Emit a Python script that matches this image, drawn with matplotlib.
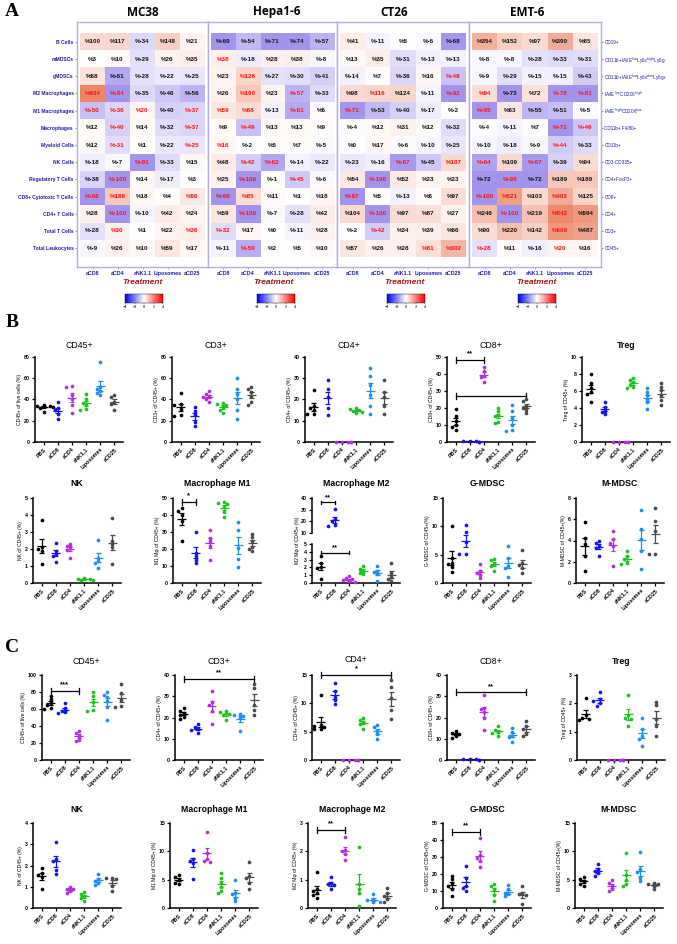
import numpy as np
import matplotlib.pyplot as plt
from matplotlib.colors import LinearSegmentedColormap, TwoSlopeNorm, Normalize
from matplotlib.cm import ScalarMappable

plt.rcParams['font.family'] = ['Liberation Sans', 'DejaVu Sans']

# ---------------- panel A data: % change vs PBS ----------------
cell_types = ['B Cells', 'mMDSCs', 'gMDSCs', 'M2 Macrophages', 'M1 Macrophages',
              'Macrophages', 'Myeloid Cells', 'NK Cells', 'Regulatory T Cells',
              'CD8+ Cytotoxic T Cells', 'CD4+ T Cells', 'Total T Cells', 'Total Leukocytes']
markers = ['CD19+', 'CD11b+IA/IE$^{low}$Ly6c$^{high}$Ly6g-', 'CD11b+IA/IE$^{low}$Ly6c$^{dim}$Ly6g+',
           'IA/IE$^{low}$CD206$^{high}$', 'IA/IE$^{high}$CD206$^{low}$', 'CD11b+ F4/80+',
           'CD11b+', 'CD3-CD335+', 'CD4+FoxP3+', 'CD8+', 'CD4+', 'CD3+', 'CD45+']
treatments = ['aCD8', 'aCD4', 'aNK1.1', 'Liposomes', 'aCD25']
models = ['MC38', 'Hepa1-6', 'CT26', 'EMT-6']

mc38 = [[100, 117, -34, 148, 21], [3, 10, -29, 26, 35], [68, -61, -28, -22, -25],
        [934, -84, -35, -46, -56], [-50, -36, 20, -40, -37], [12, -40, 14, -32, -37],
        [12, -31, 1, -22, -25], [-18, -7, -91, -33, 15], [-38, -100, 14, -17, 3],
        [-98, 186, 18, 4, 56], [28, -100, -10, 42, 24], [-28, 30, 1, 22, 36],
        [-9, 26, 10, 59, 17]]
hepa = [[-69, -54, -71, -74, -57], [38, -18, 28, 38, -8], [23, 126, -27, -30, -41],
        [26, 190, 23, -57, -33], [59, 88, -13, -61, 6], [9, -49, 13, 13, 9],
        [16, -2, 5, 7, -5], [48, -42, -62, -14, -22], [25, -100, -1, -45, -6],
        [-99, 85, 11, 1, 18], [59, -100, -7, -28, 42], [-32, 17, 0, -11, 28],
        [-11, -59, 2, 5, 10]]
ct26 = [[41, -11, 5, -6, -68], [13, 35, -31, -13, -13], [-14, 7, -36, 16, -48],
        [98, 116, 124, -11, -92], [-71, -53, -40, -17, -2], [-4, 12, 31, 12, -32],
        [0, 17, -6, -10, -25], [-23, -16, -67, -45, 107], [54, -100, 52, 23, 23],
        [-97, 5, -13, 6, 97], [104, -100, 97, 87, 27], [-2, -42, 34, 39, 66],
        [57, 26, 28, 81, 302]]
emt6 = [[354, 152, 97, 390, 65], [-8, -8, -28, -33, -31], [-9, -29, -15, -15, -43],
        [94, -73, 72, -78, -81], [-95, 63, -55, -51, -5], [-4, -11, 7, -71, -46],
        [-10, -18, -9, -44, -33], [-64, 109, -67, -39, 94], [-72, -99, -72, 189, 189],
        [-100, 521, 103, 403, 125], [246, -100, 219, 842, 594], [90, 220, 142, 609, 487],
        [-28, 11, -16, 20, 16]]

# 1 = significant (printed in red)
mc38_sig = [[0,0,0,0,0],[0,0,0,0,0],[0,0,0,0,0],[1,1,0,0,0],[1,1,1,0,1],[0,1,0,0,1],
            [0,1,0,0,1],[0,0,1,0,0],[0,1,0,0,0],[1,1,0,0,1],[0,1,0,0,0],[0,1,0,0,1],[0,0,0,0,0]]
hepa_sig = [[0,0,0,0,0],[1,0,0,0,0],[0,1,0,0,0],[0,1,0,1,0],[1,1,0,1,0],[0,1,0,0,0],
            [1,0,0,0,0],[0,1,1,0,0],[0,1,0,1,0],[1,1,0,0,0],[0,1,0,0,0],[1,0,0,0,0],[0,1,0,0,0]]
ct26_sig = [[0,0,0,0,0],[0,0,0,0,0],[0,0,0,0,1],[0,1,0,0,1],[1,0,0,0,0],[0,0,0,0,0],
            [0,0,0,0,0],[0,0,1,0,1],[0,1,0,0,0],[1,0,0,0,0],[0,1,0,0,0],[0,1,0,0,0],[0,0,0,1,1]]
emt6_sig = [[0,0,0,0,0],[0,0,0,0,0],[0,0,0,0,0],[1,0,0,1,1],[1,0,0,0,0],[0,0,0,1,1],
            [0,0,0,1,0],[1,0,1,0,0],[0,1,0,0,0],[1,1,0,1,0],[0,1,0,1,0],[0,0,0,1,0],[1,0,0,1,0]]

# ---------------- panels B / C data: % of parent per mouse ----------------
groups = ['PBS', 'aCD8', 'aCD4', 'aNK1.1', 'Liposomes', 'aCD25']
group_colors = ['#000000', '#1212ee', '#b02ee0', '#1ec21e', '#1e8cf0', '#4a4a4a']

b_cd45 = [[28, 32, 33, 34, 34, 35], [22, 26, 30, 32, 38], [27, 35, 40, 44, 52, 53],
          [30, 31, 35, 37, 40, 45], [44, 46, 48, 50, 52, 75], [30, 36, 38, 42, 44]]
b_cd3 = [[24, 25, 31, 35, 36, 46], [15, 19, 25, 29, 33], [38, 40, 42, 43, 45, 48],
         [27, 30, 33, 35, 36, 37], [22, 30, 40, 45, 50, 60], [35, 38, 43, 47, 50, 52]]
b_cd4 = [[13, 13, 15, 16, 17, 24.5], [12.5, 16, 21, 25, 29], [0, 0, 0, 0, 0],
         [13.5, 14, 14.5, 15, 15.5, 16], [13, 17, 22, 27, 31, 35], [13, 17, 21, 23.5, 29]]
b_cd8 = [[6.8, 8.8, 10, 12.4, 15, 19.4], [0.1, 0.2, 0.3, 0.4, 0.5], [35, 38, 39, 41.5, 44],
         [11, 12, 15, 16, 18, 20], [6.5, 7, 10, 14, 18, 22], [17, 19, 20, 21, 24, 25]]
b_treg = [[4.7, 5.6, 5.9, 6.3, 6.9, 8], [3.3, 3.5, 3.7, 4.1, 4.7], [0, 0, 0, 0, 0],
          [6.4, 6.5, 6.7, 7, 7.3, 7.5], [3.9, 4.7, 5.1, 5.5, 5.9, 6.3], [4.3, 4.9, 5.5, 6.1, 6.5, 6.9]]
b_nk = [[1.1, 1.9, 2.0, 2.1, 3.7], [1.25, 1.6, 1.7, 1.9, 2.35], [1.5, 1.95, 2.1, 2.2, 2.3],
        [0.15, 0.2, 0.22, 0.25, 0.3], [0.9, 1.2, 1.3, 1.5, 2.55], [1.1, 2.1, 2.3, 2.5, 3.85]]
b_m1 = [[24.7, 36.6, 40, 42.5, 43.9], [11.5, 13.8, 15.8, 17.8, 30], [13.8, 21.7, 24.7, 26.7, 31.2],
        [39.1, 41.5, 44.5, 46.4, 47, 47.4], [9.5, 14.2, 20.7, 31, 36], [19, 20, 21, 25, 27, 29]]
b_m2 = [[0.55, 1.9, 2.1, 2.6, 3.4], [16, 17, 20, 22, 30.7], [0.1, 0.2, 0.35, 0.45, 0.6, 0.85],
        [1.1, 1.3, 1.6, 1.8, 2.2], [0.3, 1.1, 1.4, 1.6, 2.2], [0.2, 0.45, 0.8, 1.3, 2.6]]
b_gmdsc = [[2.0, 2.8, 3.3, 3.6, 4.5, 10.1], [5.2, 5.2, 7.2, 9, 10.3], [0.9, 1.5, 1.8, 2.1, 3.3],
           [2.1, 3, 3.3, 4, 4.3], [1.1, 2.7, 3, 4.4, 6.6], [1.8, 2.7, 3.1, 3.6, 5.8]]
b_mmdsc = [[1.1, 2.5, 3.7, 4.2, 5.7], [2.5, 3.3, 3.5, 3.8, 4], [1.6, 3.5, 3.8, 4.1, 4.9],
           [1.8, 1.9, 2.3, 2.5, 3], [1.3, 3, 4.1, 5.1, 6.9], [2.7, 2.7, 4.9, 5.8, 7.1]]

c_cd45 = [[60, 61, 65, 67, 71.6, 75.5], [55, 56, 58, 61, 67], [22, 24, 28, 32, 34],
          [58, 59, 68, 75, 80], [47, 62, 70, 74, 77, 80], [62, 63, 71, 79, 89]]
c_cd3 = [[19.5, 20.2, 21.3, 22.1, 22.9, 24.4], [12.8, 14, 14.6, 15.6, 17.1], [17.1, 22.9, 26, 27.5, 32.7],
         [19, 21.3, 21.8, 22.4, 22.9], [13.5, 19.8, 20.5, 21, 21.5], [21.3, 23.7, 26, 33.8, 36]]
c_cd4 = [[5.4, 5.5, 5.8, 6.0, 6.2, 11.4], [9.8, 10.6, 11.2, 12.1, 13.6], [0, 0, 0, 0, 0],
         [5.5, 6.4, 6.7, 7.0, 7.4], [3.7, 4.6, 5.2, 5.8, 6.2], [7.3, 8.8, 11, 12.8, 14.2]]
c_cd8 = [[10.3, 11.5, 12.3, 12.8, 13.8], [0.1, 0.2, 0.3, 0.3, 0.4], [14.3, 20, 22.6, 23.8, 24.6, 30.8],
         [11.2, 12.8, 13.4, 14.3, 15.8], [8.5, 10.8, 11.5, 13.1, 14.9], [11.5, 12.3, 14.6, 15.8, 18.5]]
c_treg = [[1.4, 1.45, 1.5, 1.6, 2.2], [1.9, 2.0, 2.1, 2.15, 2.4], [0, 0, 0, 0, 0],
          [1.2, 1.45, 1.5, 1.6, 2.3], [0.5, 0.75, 0.85, 1.1, 1.5], [0.85, 1.2, 1.45, 1.93, 2.05]]
c_nk = [[0.9, 1.45, 1.55, 1.65, 1.9], [1.6, 1.8, 2.2, 2.3, 3.1], [0.72, 0.8, 0.88, 0.9, 1.0],
        [0.33, 0.48, 0.56, 0.64, 0.75], [1.1, 1.2, 1.27, 1.38, 1.6], [0.8, 1.03, 1.35, 1.4, 1.42]]
c_m1 = [[4.2, 4.5, 5.0, 5.5, 5.9], [5.2, 8.0, 8.3, 8.6, 10.3], [8.1, 8.3, 8.6, 9.7, 13.4],
        [2.7, 3.0, 3.7, 4.5, 5.3, 6.1], [1.2, 1.8, 2.4, 2.7, 4.9], [3.4, 4.5, 5.3, 5.7, 8.1]]
c_m2 = [[0.36, 0.45, 0.52, 0.6, 0.66, 1.27], [0.68, 0.8, 0.83, 0.89, 1.1], [1.69, 1.89, 2.0, 2.06, 2.5],
        [0.07, 0.54, 0.66, 0.83, 2.16], [0.2, 0.21, 0.28, 0.33, 0.48], [0.2, 0.31, 0.43, 0.54, 0.72]]
c_gmdsc = [[7, 10.9, 12.9, 14.8, 16.8, 18.75], [10, 11.9, 12.9, 17.8, 24.6], [24.2, 27.5, 29.5, 31.4, 41.2],
           [4.1, 7.4, 10.9, 12.9, 13.9], [7, 8, 9, 10.9, 13.3], [2.1, 7.4, 8, 9, 12.9]]
c_mmdsc = [[3.9, 4.3, 4.7, 5.2, 5.5], [5.6, 6.1, 6.5, 6.9, 7.85], [3.0, 3.3, 3.9, 4.5, 4.9],
           [3.9, 4.2, 5.0, 5.9, 9.7], [4.7, 5.3, 6.3, 6.8, 9.8], [3.3, 3.9, 4.2, 4.3, 4.5]]

W, H = 677, 944
fig = plt.figure(figsize=(W / 100, H / 100), dpi=100)


def box(l, t, w, h):
    return [l / W, 1 - (t + h) / H, w / W, h / H]


# ---------------- panel A ----------------
cell_cmap = LinearSegmentedColormap.from_list('cells', ['#a293ec', '#ffffff', '#ec8466'])
cell_norm = TwoSlopeNorm(vmin=-1.7, vcenter=0, vmax=3.4)
blue = '#1c1ca6'

blocks = [(mc38, mc38_sig), (hepa, hepa_sig), (ct26, ct26_sig), (emt6, emt6_sig)]
frames = [(77, 131), (208, 129), (337, 132), (469, 132)]
title_x = [143, 277, 394, 527]
treat_x = [143, 274, 405, 537]
cbar_x = [125, 257, 387, 518]

for k, ((vals, sig), (fl, fw)) in enumerate(zip(blocks, frames)):
    ax = fig.add_axes(box(fl, 22, fw, 245))
    arr = np.array(vals, float)
    score = np.log2(np.clip(1 + arr / 100, 0.2, None))
    ax.imshow(score, cmap=cell_cmap, norm=cell_norm, aspect='auto',
              extent=(-0.5, 4.5, 12.5, -0.5), interpolation='nearest')
    for r in range(arr.shape[0]):
        for c in range(arr.shape[1]):
            ax.text(c, r, '%' + str(int(arr[r, c])), ha='center', va='center',
                    fontsize=4.5, fontweight='bold',
                    color='#ff1010' if sig[r][c] else '#111111')
    ax.set_xlim(-0.62, 4.62)
    ax.set_ylim(13.1, -1.16)
    for s in ax.spines.values():
        s.set_color('#b4acdc')
        s.set_linewidth(1.0)
    ax.set_xticks(range(5))
    ax.set_xticklabels(treatments, fontsize=3.8, fontweight='bold', color=blue)
    ax.tick_params(axis='x', length=1.5, pad=1.5, color='#b4acdc')
    if k == 0:
        ax.set_yticks(range(13))
        ax.set_yticklabels(cell_types, fontsize=3.6, fontweight='bold', color=blue)
        ax.tick_params(axis='y', length=1.5, pad=1.0, color='#9090c0')
    elif k == 3:
        ax.yaxis.tick_right()
        ax.set_yticks(range(13))
        ax.set_yticklabels(markers, fontsize=3.3, color=blue)
        ax.tick_params(axis='y', length=1.5, pad=1.0, color='#9090c0')
    else:
        ax.set_yticks([])
    fig.text(title_x[k] / W, 1 - 12 / H, models[k], ha='center', va='center',
             fontsize=8.5, fontweight='bold', family=['Open Sans', 'DejaVu Sans'])
    fig.text(treat_x[k] / W, 1 - 282 / H, 'Treatment', ha='center', va='center',
             fontsize=6, fontweight='bold', style='italic', color='#a01818')
    cax = fig.add_axes(box(cbar_x[k], 294, 38, 9))
    cb = fig.colorbar(ScalarMappable(norm=Normalize(-4, 4), cmap='bwr'), cax=cax,
                      orientation='horizontal', ticks=[-4, -2, 0, 2, 4])
    cb.outline.set_linewidth(0.3)
    cax.tick_params(labelsize=2.8, length=1, width=0.3, pad=0.8)

for letter, (lx, ly) in zip('ABC', [(12, 12), (12, 323), (12, 648)]):
    fig.text(lx / W, 1 - ly / H, letter, ha='center', va='center', fontsize=14,
             fontweight='bold', family=['Liberation Serif', 'DejaVu Serif'])


# ---------------- panels B / C ----------------
def swarm(vals, px_y, px_x=13.5, d=3.3):
    offs = np.zeros(len(vals))
    placed = []
    for i in np.argsort(vals)[::-1]:
        for c in (0, -0.22, 0.22, -0.44, 0.44, -0.66, 0.66):
            if all(np.hypot((c - o) * px_x, (vals[i] - v) * px_y) >= d for o, v in placed):
                break
        offs[i] = c
        placed.append((c, vals[i]))
    return offs


def style_axis(ax, ylim, yticks, bottom=True):
    ax.set_xlim(-0.6, 5.6)
    ax.set_ylim(*ylim)
    ax.set_yticks(yticks)
    ax.spines[['top', 'right']].set_visible(False)
    ax.spines['left'].set_linewidth(1.1)
    ax.spines['bottom'].set_linewidth(1.1)
    ax.tick_params(axis='y', labelsize=3.8, length=2.5, width=0.9, pad=1)
    for t in ax.get_yticklabels():
        t.set_fontweight('bold')
    if bottom:
        ax.set_xticks(range(6))
        ax.set_xticklabels(groups, rotation=45, ha='right', rotation_mode='anchor',
                           fontsize=3.9, fontweight='bold')
        ax.tick_params(axis='x', length=2.5, width=0.9, pad=1)
    else:
        ax.spines['bottom'].set_visible(False)
        ax.set_xticks([])


def draw_groups(ax, data, ylim, h_px):
    px_y = h_px / (ylim[1] - ylim[0])
    lo, hi = ylim
    for i, (vals, col) in enumerate(zip(data, group_colors)):
        v = np.array(vals, float)
        m = v.mean()
        se = v.std(ddof=1) / np.sqrt(len(v))
        keep = (v >= lo - 0.02 * (hi - lo)) & (v <= hi)
        offs = swarm(v, px_y)
        ax.scatter(i + offs[keep], v[keep], s=7, color=col, linewidths=0, zorder=3, clip_on=False)
        if lo <= m <= hi:
            kw = dict(color=col, lw=0.9, solid_capstyle='butt', zorder=2, clip_on=False)
            ax.plot([i - 0.32, i + 0.32], [m, m], **kw)
            ax.plot([i, i], [max(m - se, lo), min(m + se, hi)], **kw)
            ax.plot([i - 0.16, i + 0.16], [m + se] * 2, **kw)
            if m - se >= lo:
                ax.plot([i - 0.16, i + 0.16], [m - se] * 2, **kw)


def bracket(ax, x0, x1, y, stars, ylim):
    d = (ylim[1] - ylim[0]) * 0.035
    kw = dict(color='black', lw=0.9, clip_on=False)
    ax.plot([x0, x1], [y, y], **kw)
    ax.plot([x0, x0], [y - d, y + d], **kw)
    ax.plot([x1, x1], [y - d, y + d], **kw)
    if stars:
        ax.text((x0 + x1) / 2, y + d * 0.9, stars, ha='center', va='bottom', fontsize=5.5,
                fontweight='bold', clip_on=False)


def panel_title(left, title_y, text, bold):
    fig.text((left + 44) / W, 1 - title_y / H, text, ha='center', va='center',
             fontsize=6.3, fontweight='bold' if bold else 'normal')


def dot_panel(left, top, title_y, data, title, ylabel, ylim, yticks, bold=True, brackets=()):
    w, h = 88, 85
    ax = fig.add_axes(box(left, top, w, h))
    style_axis(ax, ylim, yticks)
    draw_groups(ax, data, ylim, h)
    ax.set_ylabel(ylabel, fontsize=3.6, labelpad=1.5)
    panel_title(left, title_y, title, bold)
    for b in brackets:
        bracket(ax, *b, ylim=ylim)
    return ax


# panel B, row 1
dot_panel(35, 357, 345, b_cd45, 'CD45+', 'CD45+ of live cells (%)', (0, 80), range(0, 81, 20), bold=False)
dot_panel(172, 357, 345, b_cd3, 'CD3+', 'CD3+ of CD45+ (%)', (0, 80), range(0, 81, 20), bold=False)
dot_panel(305, 357, 345, b_cd4, 'CD4+', 'CD4+ of CD45+ (%)', (0, 40), range(0, 41, 10), bold=False)
dot_panel(447, 357, 345, b_cd8, 'CD8+', 'CD8+ of CD45+ (%)', (0, 50), range(0, 51, 10), bold=False,
          brackets=[(0, 2, 48.4, '**'), (0, 5, 26.8, '')])
dot_panel(582, 357, 345, b_treg, 'Treg', 'Treg of CD45+ (%)', (0, 10), range(0, 11, 2))

# panel B, row 2
dot_panel(33, 498, 484, b_nk, 'NK', 'NK of CD45+ (%)', (0, 5), range(0, 6))
dot_panel(173, 498, 484, b_m1, 'Macrophage M1', 'M1 M\u03c6 of CD45+ (%)', (0, 50), range(0, 51, 10),
          brackets=[(0, 1, 47.8, '*')])
# broken axis for M2
top_lim, bot_lim = (10, 40), (0, 5)
ax_t = fig.add_axes(box(312, 498, 88, 35))
style_axis(ax_t, top_lim, range(10, 41, 10), bottom=False)
draw_groups(ax_t, b_m2, top_lim, 35)
panel_title(312, 484, 'Macrophage M2', True)
bracket(ax_t, 0, 1, 36.2, '**', top_lim)
ax_b = fig.add_axes(box(312, 544, 88, 39))
style_axis(ax_b, bot_lim, range(0, 6))
draw_groups(ax_b, b_m2, bot_lim, 39)
bracket(ax_b, 0, 2, 3.9, '**', bot_lim)
fig.text(298 / W, 1 - 540 / H, 'M2 M\u03c6 of CD45+ (%)', rotation=90, ha='center', va='center',
         fontsize=3.6)
dot_panel(443, 498, 484, b_gmdsc, 'G-MDSC', 'G-MDSC of CD45+(%)', (0, 15), range(0, 16, 5))
dot_panel(576, 498, 484, b_mmdsc, 'M-MDSC', 'M-MDSC of CD45+(%)', (0, 8), range(0, 9, 2))

# panel C, row 1
dot_panel(42, 675, 661, c_cd45, 'CD45+', 'CD45+ of live cells (%)', (0, 100), range(0, 101, 20), bold=False,
          brackets=[(0, 2, 81.7, '***')])
dot_panel(175, 675, 661, c_cd3, 'CD3+', 'CD4+ of CD45+ (%)', (0, 40), range(0, 41, 10), bold=False,
          brackets=[(0, 5, 38, '**')])
dot_panel(312, 675, 660, c_cd4, 'CD4+', 'CD4+ of CD45+ (%)', (0, 15), range(0, 16, 5), bold=False,
          brackets=[(0, 5, 15, '*')])
dot_panel(447, 675, 661, c_cd8, 'CD8+', 'CD8+ of CD45+ (%)', (0, 40), range(0, 41, 10), bold=False,
          brackets=[(0, 5, 31.8, '**')])
dot_panel(577, 675, 661, c_treg, 'Treg', 'Treg of CD45+ (%)', (0, 3), range(0, 4))

# panel C, row 2
dot_panel(33, 823, 809, c_nk, 'NK', 'NK of CD45+ (%)', (0, 4), range(0, 5))
dot_panel(170, 823, 809, c_m1, 'Macrophage M1', 'M1 M\u03c6 of CD45+ (%)', (0, 15), range(0, 16, 5))
dot_panel(308, 823, 809, c_m2, 'Macrophage M2', 'M2 M\u03c6 of CD45+ (%)', (0, 3), range(0, 4),
          brackets=[(0, 2, 2.74, '**')])
dot_panel(443, 823, 809, c_gmdsc, 'G-MDSC', 'G-MDSC of CD45+(%)', (0, 50), range(0, 51, 10),
          brackets=[(0, 2, 44.7, '**')])
dot_panel(575, 823, 809, c_mmdsc, 'M-MDSC', 'M-MDSC of CD45+(%)', (0, 15), range(0, 16, 5))

fig.savefig('out.png', dpi=100)
